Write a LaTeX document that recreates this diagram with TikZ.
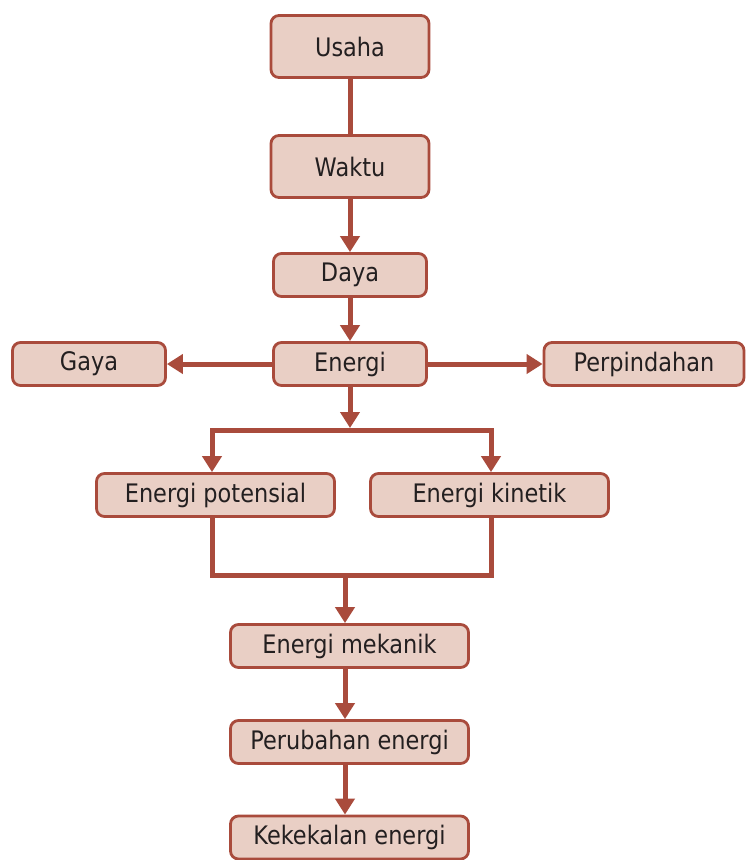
\documentclass[tikz,border=0pt]{standalone}
\usepackage{fontspec}
\setmainfont{DejaVu Sans}[FakeStretch=0.88]
\usetikzlibrary{arrows.meta}
\definecolor{brd}{HTML}{A94B3C}
\definecolor{bfill}{HTML}{E9CFC5}
\definecolor{txt}{HTML}{231F20}
\tikzset{
  box/.style={draw=brd, fill=bfill, line width=2.8pt, rounded corners=8pt, text=txt,
    inner sep=0pt, font=\fontsize{25.5}{29}\selectfont},
  sbox/.style={box, minimum width=153pt, minimum height=43pt},
  wbox/.style={box, minimum width=238pt, minimum height=43pt},
  conn/.style={draw=brd, line width=5pt},
  arr/.style={conn, -{Triangle[length=16pt,width=19pt]}}
}
\begin{document}
\begin{tikzpicture}[x=1pt,y=-1pt]
\useasboundingbox (0,0) rectangle (746,860);
\node[box, minimum width=158pt, minimum height=62pt] (usaha) at (350,46.5) {Usaha};
\node[box, minimum width=158pt, minimum height=62pt] (waktu) at (350,166.5) {Waktu};
\node[sbox] (daya) at (350,275) {Daya};
\node[sbox] (energi) at (350,364) {Energi};
\node[sbox] (gaya) at (89,364) {Gaya};
\node[box, minimum width=200pt, minimum height=43pt] (perp) at (644,364) {Perpindahan};
\node[wbox] (pot) at (215.5,495) {Energi potensial};
\node[wbox] (kin) at (489.5,495) {Energi kinetik};
\node[wbox] (mek) at (349.5,646) {Energi mekanik};
\node[wbox] (per) at (349.5,742) {Perubahan energi};
\node[wbox] (kek) at (349.5,837.5) {Kekekalan energi};
\coordinate (sp) at (350,430);
\coordinate (spl) at (212,430);
\coordinate (spr) at (491,430);
\coordinate (jn) at (345,575);
\draw[conn] (usaha) -- (waktu);
\draw[arr] (waktu) -- (daya);
\draw[arr] (daya) -- (energi);
\draw[arr] (energi) -- (gaya);
\draw[arr] (energi) -- (perp);
\draw[arr] (energi) -- ([yshift=2pt]sp);
\draw[arr] (sp) -| (spl |- pot.north);
\draw[arr] (sp) -| (spr |- kin.north);
\draw[conn] (spl |- pot.south) |- (jn) -| (spr |- kin.south);
\draw[arr] (jn) -- (jn |- mek.north);
\draw[arr] (jn |- mek.south) -- (jn |- per.north);
\draw[arr] (jn |- per.south) -- (jn |- kek.north);
\end{tikzpicture}
\end{document}
